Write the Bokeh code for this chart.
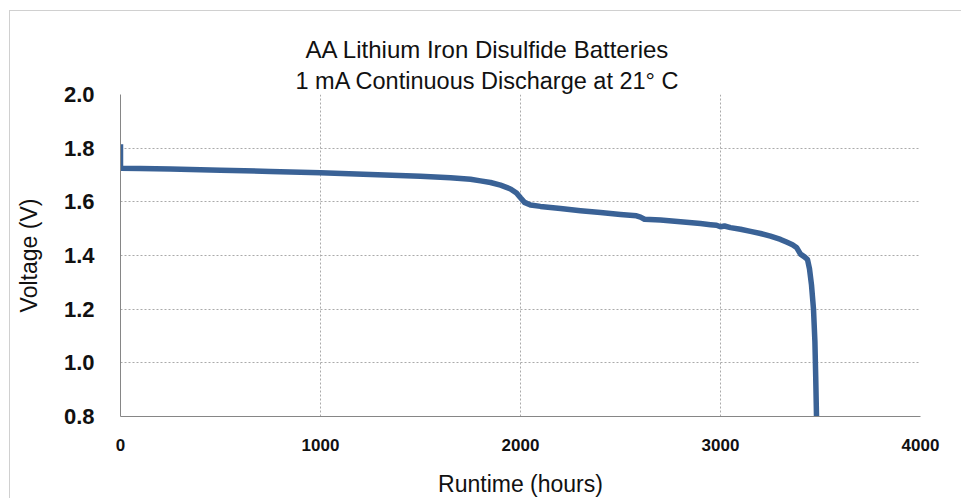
from bokeh.plotting import figure
from bokeh.models import Range1d, FixedTicker, NumeralTickFormatter, Title
from bokeh.embed import file_html
from bokeh.resources import INLINE

title_lines = ["AA Lithium Iron Disulfide Batteries", "1 mA Continuous Discharge at 21\u00b0 C"]
x_label = "Runtime (hours)"
y_label = "Voltage (V)"

hours = [0, 0, 100, 250, 500, 750, 1000, 1250, 1500, 1650, 1750, 1800, 1850, 1900,
         1950, 1980, 2000, 2020, 2050, 2100, 2200, 2300, 2400, 2500, 2580, 2600,
         2620, 2700, 2800, 2900, 2950, 2980, 3000, 3020, 3050, 3100, 3150, 3200,
         3250, 3300, 3330, 3360, 3380, 3400, 3420, 3435, 3445, 3455, 3465, 3472,
         3476, 3480]
volts = [1.815, 1.725, 1.724, 1.722, 1.718, 1.713, 1.708, 1.702, 1.695, 1.690,
         1.684, 1.678, 1.672, 1.662, 1.648, 1.633, 1.615, 1.598, 1.588, 1.583,
         1.575, 1.567, 1.560, 1.553, 1.548, 1.543, 1.535, 1.532, 1.526, 1.519,
         1.515, 1.513, 1.507, 1.510, 1.504, 1.498, 1.490, 1.482, 1.472, 1.460,
         1.450, 1.440, 1.430, 1.405, 1.395, 1.385, 1.350, 1.290, 1.200, 1.080,
         0.950, 0.800]

x_ticks = [0, 1000, 2000, 3000, 4000]
y_ticks = [0.8, 1.0, 1.2, 1.4, 1.6, 1.8, 2.0]

FONT = "Liberation Sans"

p = figure(width=952, height=488, output_backend="svg", toolbar_location=None,
           x_range=Range1d(0, 4000), y_range=Range1d(0.8, 2.0),
           min_border_left=110, min_border_right=42, min_border_top=83,
           min_border_bottom=82)
p.styles = {"margin-top": "10px", "margin-left": "9px",
            "border-top": "1px solid #d0d0d0", "border-left": "1px solid #d0d0d0"}

p.outline_line_color = None
p.background_fill_color = "white"
p.border_fill_color = "white"

for ax in (p.xaxis[0], p.yaxis[0]):
    ax.axis_line_color = "#868686"
    ax.axis_line_width = 1
    ax.major_tick_line_color = None
    ax.minor_tick_line_color = None
    ax.major_label_text_font = FONT
    ax.major_label_text_font_style = "bold"
    ax.major_label_text_color = "#111111"
    ax.axis_label_text_font = FONT
    ax.axis_label_text_font_style = "normal"
    ax.axis_label_text_color = "#111111"

p.xaxis.ticker = FixedTicker(ticks=x_ticks)
p.yaxis.ticker = FixedTicker(ticks=y_ticks)
p.xaxis.formatter = NumeralTickFormatter(format="0")
p.yaxis.formatter = NumeralTickFormatter(format="0.0")
p.xaxis.major_label_text_font_size = "17px"
p.yaxis.major_label_text_font_size = "22px"
p.xaxis.major_label_standoff = 16
p.yaxis.major_label_standoff = 20
p.xaxis.axis_label = x_label
p.yaxis.axis_label = y_label
p.xaxis.axis_label_text_font_size = "23px"
p.yaxis.axis_label_text_font_size = "23px"
p.xaxis.axis_label_standoff = 17
p.yaxis.axis_label_standoff = 19

for g in (p.xgrid[0], p.ygrid[0]):
    g.grid_line_color = "#aaaaaa"
    g.grid_line_dash = "2 2"
    g.grid_line_width = 1
p.xgrid.ticker = FixedTicker(ticks=x_ticks)
p.ygrid.ticker = FixedTicker(ticks=y_ticks)

p.line(hours, volts, line_color="#3A6296", line_width=5.5, line_join="round")

# Subtitle is added first so it sits nearest the plot; main title goes above it.
p.add_layout(Title(text=title_lines[1], align="left", offset=175,
                   text_font=FONT, text_font_size="23.5px", text_font_style="normal",
                   text_color="#111111", standoff=2), "above")
p.add_layout(Title(text=title_lines[0], align="left", offset=185,
                   text_font=FONT, text_font_size="24px", text_font_style="normal",
                   text_color="#111111", standoff=3), "above")

open("out.html", "w").write(file_html(p, INLINE))
